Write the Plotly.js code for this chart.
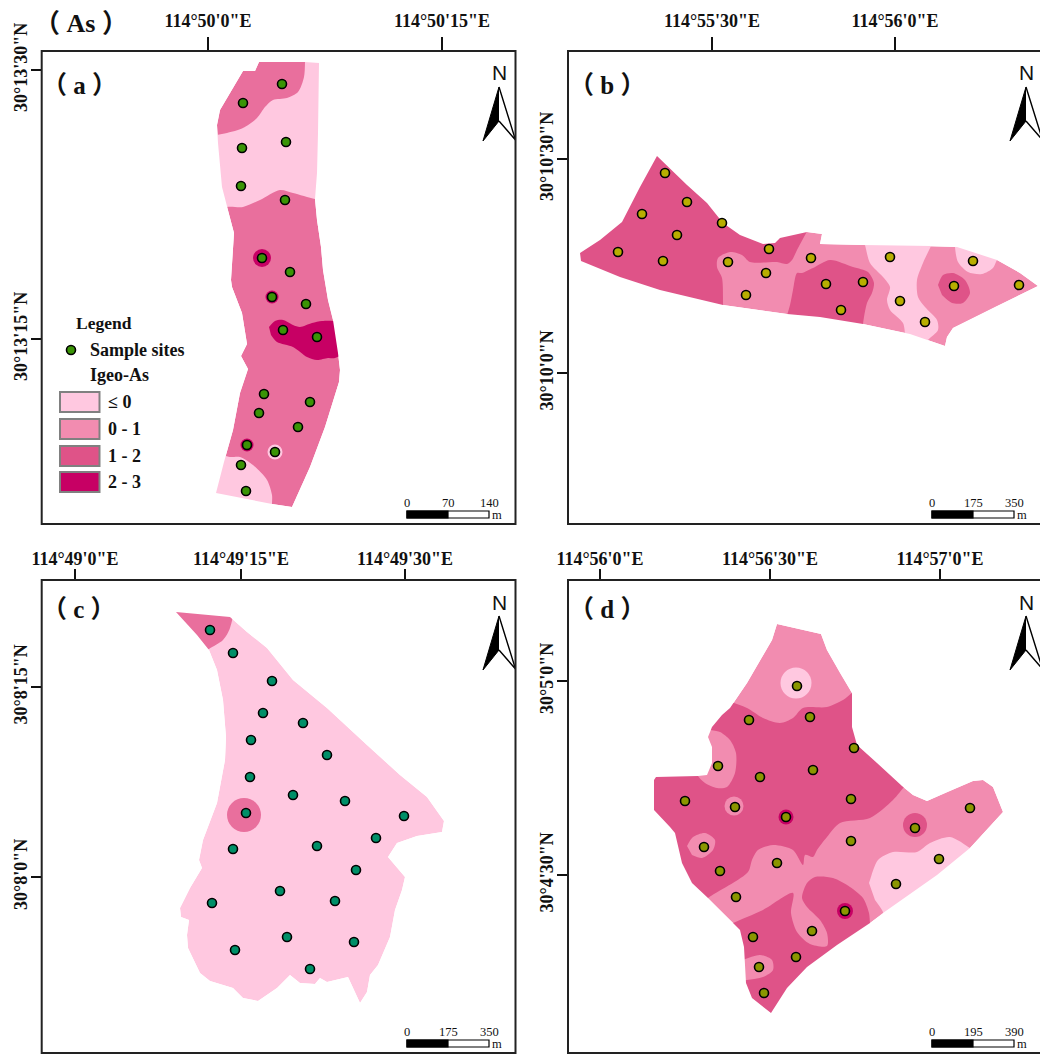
<!DOCTYPE html>
<html>
<head>
<meta charset="utf-8">
<script src="https://cdn.plot.ly/plotly-3.0.1.min.js"></script>
<style>html,body{margin:0;padding:0;background:#fff;overflow:hidden}#chart{width:1040px;height:1054px}</style>
</head>
<body>
<div id="chart"></div>
<script>
// ---- class colours ----
const classLabels = ['≤ 0', '0 - 1', '1 - 2', '2 - 3'];
const classColors = ['#FFC8E0', '#F28CB0', '#DF5388', '#C70064'];
const mapAMid = '#E96F9D';

// ---- axis ticks (map units of each panel) ----
const aTickX = [208, 442], aTickXText = ["114°50'0\"E", "114°50'15\"E"];
const aTickY = [70, 339], aTickYText = ["30°13'30\"N", "30°13'15\"N"];
const bTickX = [712, 895], bTickXText = ["114°55'30\"E", "114°56'0\"E"];
const bTickY = [159, 373], bTickYText = ["30°10'30\"N", "30°10'0\"N"];
const cTickX = [75, 241, 405], cTickXText = ["114°49'0\"E", "114°49'15\"E", "114°49'30\"E"];
const cTickY = [687, 877], cTickYText = ["30°8'15\"N", "30°8'0\"N"];
const dTickX = [600, 770, 940], dTickXText = ["114°56'0\"E", "114°56'30\"E", "114°57'0\"E"];
const dTickY = [681, 875], dTickYText = ["30°5'0\"N", "30°4'30\"N"];

// ---- panel (a) zones ----
const aOutline = [[259,62],[305,62],[319,63],[318,133],[317,173],[315,199],[317,220],[321,247],[323,270],[328,300],[333,320],[338,353],[340,370],[339,382],[325,427],[310,467],[292,507],[272,504],[216,493],[224,462],[233,430],[240,393],[248,369],[241,356],[247,344],[242,313],[232,287],[231,280],[234,233],[227,207],[222,187],[218,143],[217,125],[220,110],[232,90],[243,71],[255,71]];
const aLow1 = [[305,55],[304,77],[298,92],[287,98],[273,100],[265,107],[257,118],[243,128],[227,133],[217,135],[205,137],[205,215],[227,207],[243,207],[260,200],[280,190],[293,193],[315,199],[330,201],[335,130],[330,55]];
const aLow2 = [[222,455],[230,457],[240,457],[253,465],[267,480],[272,495],[272,504],[272,515],[200,515],[205,470]];
const aHigh = [[269,327],[275,321],[283,320],[293,325],[300,327],[312,323],[322,321],[333,321],[345,325],[348,350],[335,358],[328,358],[317,360],[307,357],[293,347],[277,342],[271,335]];
const aRings = [[262,258,18,3],[272,297,13,3],[247,445,13,3],[275,452,15,0]];
const aSites = [[282,84],[243,103],[286,142],[242,148],[241,186],[285,200],[262,258],[290,272],[272,297],[306,304],[283,330],[317,337],[264,394],[310,402],[259,413],[298,427],[247,445],[275,452],[241,465],[246,491]];

// ---- panel (b) zones ----
const bOutline = [[657,156],[667,165],[687,185],[707,203],[723,223],[740,235],[763,244],[775,243],[780,238],[807,232],[822,234],[820,244],[863,245],[932,246],[957,247],[997,260],[1020,273],[1038,286],[997,306],[953,328],[947,337],[945,346],[910,334],[863,324],[820,317],[787,314],[723,305],[660,290],[620,277],[581,261],[580,253],[600,240],[622,222],[640,187]];
const bMid1 = [[810,226],[797,250],[792,260],[787,264],[777,262],[750,262],[742,255],[730,252],[718,258],[717,267],[722,278],[723,305],[723,325],[570,320],[570,140],[800,140]];
const bMid2 = [[784,325],[790,305],[793,290],[797,273],[802,273],[813,268],[830,260],[853,267],[868,272],[874,283],[872,293],[867,303],[863,324],[862,338],[784,338]];
const bMid3 = [[938,285],[943,275],[953,273],[965,280],[970,293],[963,303],[952,303],[942,295]];
const bLow1 = [[935,238],[931,246],[923,263],[917,280],[918,297],[925,307],[937,320],[938,330],[928,340],[924,347],[907,340],[903,323],[890,310],[887,300],[890,287],[883,277],[870,263],[865,245],[862,236]];
const bLow2 = [[955,240],[955,247],[958,262],[968,272],[982,274],[993,268],[997,260],[1002,255],[990,245]];
const bSites = [[665,173],[687,202],[642,214],[722,223],[677,235],[769,249],[618,252],[663,261],[728,262],[811,258],[890,257],[973,261],[766,273],[863,282],[826,284],[954,286],[1019,285],[746,295],[900,301],[841,310],[925,322]];

// ---- panel (c) zones ----
const cOutline = [[176,612],[230,617],[247,632],[267,648],[293,680],[327,708],[367,745],[400,775],[427,797],[444,821],[442,832],[417,836],[397,843],[388,857],[405,877],[402,890],[395,910],[390,937],[378,965],[370,975],[367,992],[360,1003],[348,977],[327,982],[320,978],[315,984],[300,983],[290,975],[277,988],[258,1001],[243,998],[233,988],[210,981],[200,973],[188,948],[187,935],[189,920],[181,917],[180,908],[190,888],[202,868],[199,860],[203,840],[217,803],[225,760],[226,737],[223,700],[217,670],[209,650],[197,635]];
const cMid1 = [[170,605],[232,608],[230,628],[223,640],[209,649],[200,656],[170,640]];
const cRings = [[244,815,34,2]];
const cSites = [[210,630],[233,653],[272,681],[263,713],[303,723],[251,740],[327,755],[250,777],[293,795],[345,801],[246,813],[404,816],[376,838],[317,846],[233,849],[356,870],[280,891],[335,901],[212,903],[287,937],[354,942],[235,950],[310,969]];

// ---- panel (d) zones ----
const dOutline = [[777,624],[821,634],[827,650],[840,673],[852,693],[852,727],[857,745],[877,763],[902,786],[913,795],[927,801],[947,792],[973,781],[983,780],[993,787],[1003,812],[970,848],[937,875],[883,913],[870,923],[837,945],[807,967],[787,988],[771,1013],[752,998],[746,983],[744,947],[740,930],[733,923],[708,898],[692,883],[682,863],[675,833],[670,827],[654,810],[654,780],[656,777],[698,776],[707,775],[712,763],[712,747],[708,737],[712,727],[722,715],[730,708],[747,683],[772,640]];
const dMid1 = [[725,700],[747,708],[763,718],[780,723],[793,718],[803,708],[827,707],[843,700],[852,693],[860,688],[880,740],[915,778],[906,785],[893,800],[870,818],[840,823],[827,837],[817,850],[813,857],[805,855],[803,865],[793,850],[773,845],[758,850],[752,860],[748,872],[708,898],[700,905],[640,860],[640,770],[650,765],[695,720]];
const dMid2 = [[725,927],[733,923],[763,910],[793,893],[791,913],[797,932],[810,944],[827,946],[827,933],[820,920],[807,907],[802,898],[807,883],[815,877],[833,878],[850,887],[863,898],[869,913],[870,923],[872,935],[820,1000],[770,1030],[730,1000],[722,945]];
const dUp1 = [[710,730],[720,732],[730,740],[736,753],[735,773],[727,787],[717,788],[705,783],[698,776],[695,765],[700,745],[703,730]];
const dUp2 = [[687,846],[693,837],[705,833],[715,840],[713,850],[702,858],[692,855]];
const dUp3 = [[738,962],[760,955],[772,960],[773,970],[763,977],[738,981]];
const dLow1 = [[869,883],[870,880],[878,860],[893,852],[917,852],[930,843],[950,837],[970,848],[976,852],[940,885],[888,922],[882,910],[875,900]];
const dRings = [[796,683,31,0],[734,806,19,1],[915,825,24,2],[786,817,15,3],[845,911,16,3]];
const dSites = [[797,686],[749,720],[810,717],[854,748],[718,766],[760,777],[813,770],[685,801],[851,799],[735,807],[786,817],[970,808],[915,828],[851,841],[704,847],[777,863],[720,871],[939,859],[896,884],[736,897],[845,911],[812,931],[753,937],[796,957],[759,967],[764,993]];

// ---- furniture ----
const arrowLeft = [[0,0],[-16,54],[0,34]];
const arrowRight = [[0,0],[16.5,53],[0,34]];
const siteColors = ['#3A9406', '#B8AE00', '#008F68', '#8B9600'];
const panelNames = ['（ a ）', '（ b ）', '（ c ）', '（ d ）'];
const scaleLabels = [['0','70','140'],['0','175','350'],['0','175','350'],['0','195','390']];

// frames in picture pixels
const W = 1040, H = 1054;
const frames = [
  {l:41.7, r:515.5, t:51, b:524, xa:'x',  ya:'y'},
  {l:568,  r:1040,  t:51, b:524, xa:'x2', ya:'y2'},
  {l:41.7, r:515.5, t:580, b:1053, xa:'x3', ya:'y3'},
  {l:568,  r:1040,  t:580, b:1053, xa:'x4', ya:'y4'}
];
const SERIF = 'Liberation Serif, Noto Sans CJK SC, serif';
const traces = [], shapes = [], annotations = [];

function zone(pts, color, f, smooth) {
  traces.push({x: pts.map(p=>p[0]), y: pts.map(p=>p[1]), xaxis:f.xa, yaxis:f.ya, type:'scatter', mode:'lines',
    fill:'toself', fillcolor:color, line:{width:0, color:color, shape: smooth?'spline':'linear', smoothing:0.8},
    hoverinfo:'skip', showlegend:false});
}
// white surround keeps the smoothed zones inside the study-area boundary
function surround(outline, f) {
  const box = [[f.l,f.t],[f.r,f.t],[f.r,f.b],[f.l,f.b],[f.l,f.t]];
  const hole = outline.slice().reverse();
  const pts = box.concat(hole, [hole[0]], [[f.l,f.t]]);
  zone(pts, '#ffffff', f);
}
function rings(list, f, mid) {
  traces.push({x:list.map(p=>p[0]), y:list.map(p=>p[1]), xaxis:f.xa, yaxis:f.ya, type:'scatter', mode:'markers',
    marker:{size:list.map(p=>p[2]), opacity:1, color:list.map(p=>(mid && p[3]===2)?mid:classColors[p[3]]), line:{width:0}},
    hoverinfo:'skip', showlegend:false});
}
function sites(list, color, f) {
  traces.push({x:list.map(p=>p[0]), y:list.map(p=>p[1]), xaxis:f.xa, yaxis:f.ya, type:'scatter', mode:'markers',
    name:'Sample sites', marker:{size:9, opacity:1, color:color, line:{width:1.6, color:'#000'}}, showlegend:false});
}
function text(f, x, y, t, size, opts) {
  opts = opts || {};
  annotations.push({xref:f.xa, yref:f.ya, x:x, y:y, text:t, showarrow:false, xanchor:opts.anchor||'center', yanchor:'middle',
    font:{family:opts.family||SERIF, size:size, color:'#111', weight:opts.weight||'normal'}});
}

// zones
const [fa, fb, fc, fd] = frames;
zone(aOutline, mapAMid, fa);
zone(aLow1, classColors[0], fa, true);
zone(aLow2, classColors[0], fa, true);
zone(aHigh, classColors[3], fa, true);
surround(aOutline, fa);
rings(aRings, fa);
sites(aSites, siteColors[0], fa);

zone(bOutline, classColors[1], fb);
zone(bMid1, classColors[2], fb, true);
zone(bMid2, classColors[2], fb, true);
zone(bMid3, classColors[2], fb, true);
zone(bLow1, classColors[0], fb, true);
zone(bLow2, classColors[0], fb, true);
surround(bOutline, fb);
sites(bSites, siteColors[1], fb);

zone(cOutline, classColors[0], fc);
zone(cMid1, mapAMid, fc, true);
surround(cOutline, fc);
rings(cRings, fc, mapAMid);
sites(cSites, siteColors[2], fc);

zone(dOutline, classColors[1], fd);
zone(dMid1, classColors[2], fd, true);
zone(dMid2, classColors[2], fd, true);
zone(dUp1, classColors[1], fd, true);
zone(dUp2, classColors[1], fd, true);
zone(dUp3, classColors[1], fd, true);
zone(dLow1, classColors[0], fd, true);
surround(dOutline, fd);
rings(dRings, fd);
sites(dSites, siteColors[3], fd);

// north arrows, scale bars, frames, panel letters
frames.forEach((f, i) => {
  const ox = i % 2 ? 1026 : 499;
  const oy = f.t + 36;
  const shift = p => [p[0] + ox, p[1] + oy];
  traces.push({x:arrowRight.map(shift).map(p=>p[0]), y:arrowRight.map(shift).map(p=>p[1]), xaxis:f.xa, yaxis:f.ya, type:'scatter', mode:'lines',
    fill:'toself', fillcolor:'#fff', line:{width:1.4, color:'#000'}, hoverinfo:'skip', showlegend:false});
  traces.push({x:arrowLeft.map(shift).map(p=>p[0]), y:arrowLeft.map(shift).map(p=>p[1]), xaxis:f.xa, yaxis:f.ya, type:'scatter', mode:'lines',
    fill:'toself', fillcolor:'#000', line:{width:1, color:'#000'}, hoverinfo:'skip', showlegend:false});
  text(f, ox, f.t + 22, 'N', 21, {family:'Liberation Sans, Arial, sans-serif'});

  const sx = i % 2 ? 932 : 407, sw = 82, sy = f.b - 11;
  shapes.push({type:'rect', xref:f.xa, yref:f.ya, x0:sx, x1:sx+sw, y0:sy-2, y1:sy+5, line:{color:'#000', width:1.2}, fillcolor:'#fff'});
  shapes.push({type:'rect', xref:f.xa, yref:f.ya, x0:sx, x1:sx+sw/2, y0:sy-2, y1:sy+5, line:{color:'#000', width:1.2}, fillcolor:'#000'});
  scaleLabels[i].forEach((t, k) => text(f, sx + k*sw/2, f.b - 21, t, 12.5));
  text(f, sx + sw + 8, sy + 2, 'm', 12.5);

  shapes.push({type:'rect', xref:'paper', yref:'paper', x0:f.l/W, x1:(i%2?1060:f.r)/W, y0:1-f.b/H, y1:1-f.t/H, line:{color:'#222', width:2}, fillcolor:'rgba(0,0,0,0)'});
  text(f, i%2 ? 607 : 79, f.t + (i<2 ? 35 : 29), panelNames[i], 25, {weight:'bold'});
});
annotations.push({xref:'paper', yref:'paper', x:81/W, y:1-23/H, text:'（ As ）', showarrow:false, xanchor:'center', yanchor:'middle',
  font:{family:SERIF, size:26, color:'#111', weight:'bold'}});

// legend in panel (a)
text(fa, 74, 323, 'Legend', 17.5, {weight:'bold', anchor:'left'});
traces.push({x:[71], y:[350], xaxis:'x', yaxis:'y', type:'scatter', mode:'markers', name:'Sample sites',
  marker:{size:9, opacity:1, color:siteColors[0], line:{width:1.6, color:'#000'}}, hoverinfo:'skip', showlegend:false});
text(fa, 88, 350, 'Sample sites', 18, {weight:'bold', anchor:'left'});
text(fa, 88, 375, 'Igeo-As', 18, {weight:'bold', anchor:'left'});
const swatchTops = [392, 419, 446, 472];
classLabels.forEach((lab, i) => {
  shapes.push({type:'rect', xref:'x', yref:'y', x0:60, x1:99.5, y0:swatchTops[i], y1:swatchTops[i]+20,
    line:{color:'#808080', width:2}, fillcolor:classColors[i]});
  text(fa, 106, swatchTops[i]+10.5, lab, 18, {weight:'bold', anchor:'left'});
});

// axes
function axisPair(f, tx, txt, ty, tyt, topLen, topOff) {
  const base = {showgrid:false, zeroline:false, showline:false, ticks:'outside', tickwidth:2, tickcolor:'#111',
    tickmode:'array', fixedrange:true, automargin:false};
  const tf = {family:SERIF, size:18, color:'#111', weight:'bold'};
  return [
    Object.assign({}, base, {domain:[f.l/W, f.r/W], range:[f.l, f.r], side:'top', tickvals:tx, ticktext:txt, tickfont:tf, tickangle:0, ticklen:topLen, ticklabelstandoff:topOff}),
    Object.assign({}, base, {domain:[1-f.b/H, 1-f.t/H], range:[f.b, f.t], side:'left', tickvals:ty, ticktext:tyt, tickfont:tf, tickangle:-90, ticklen:10, ticklabelstandoff:-3})
  ];
}
const [xa1, ya1] = axisPair(fa, aTickX, aTickXText, aTickY, aTickYText, 13, 3);
const [xa2, ya2] = axisPair(fb, bTickX, bTickXText, bTickY, bTickYText, 13, 3);
const [xa3, ya3] = axisPair(fc, cTickX, cTickXText, cTickY, cTickYText, 10, -3);
const [xa4, ya4] = axisPair(fd, dTickX, dTickXText, dTickY, dTickYText, 10, -3);
xa1.anchor='y'; ya1.anchor='x'; xa2.anchor='y2'; ya2.anchor='x2'; xa3.anchor='y3'; ya3.anchor='x3'; xa4.anchor='y4'; ya4.anchor='x4';

Plotly.newPlot('chart', traces, {
  width:W, height:H, margin:{l:0,r:0,t:0,b:0}, paper_bgcolor:'#fff', plot_bgcolor:'#fff', showlegend:false,
  hovermode:'closest', font:{family:SERIF},
  xaxis:xa1, yaxis:ya1, xaxis2:xa2, yaxis2:ya2, xaxis3:xa3, yaxis3:ya3, xaxis4:xa4, yaxis4:ya4,
  shapes:shapes, annotations:annotations
}, {displayModeBar:false});
</script>
</body>
</html>
